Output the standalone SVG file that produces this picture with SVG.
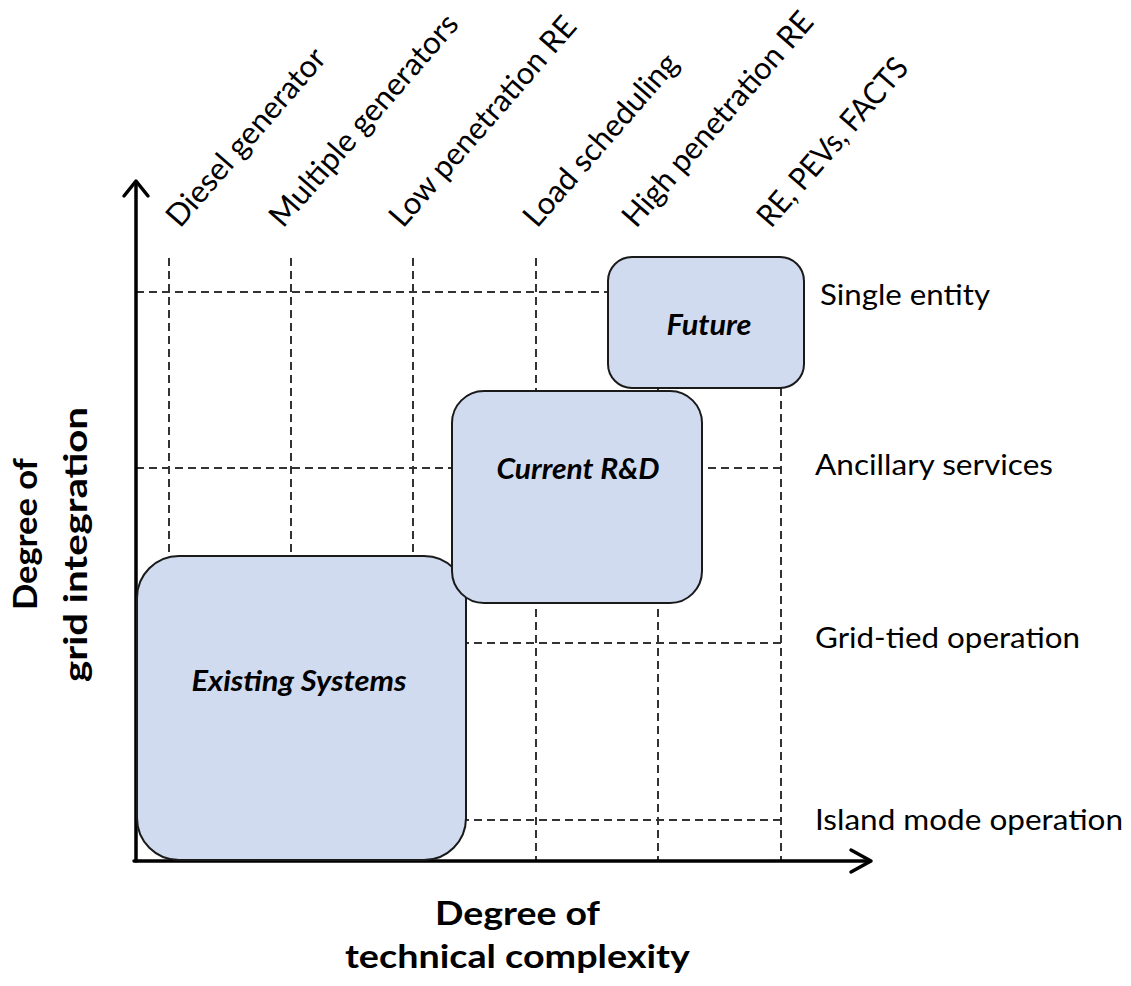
<svg xmlns="http://www.w3.org/2000/svg" width="1131" height="986" viewBox="0 0 1131 986">
<style>
.grid{stroke:#333;stroke-width:2;fill:none;stroke-dasharray:8 5}
.axis{stroke:#000;stroke-width:3.5;fill:none;stroke-linecap:round;stroke-linejoin:round}
.box{fill:#d0dbef;stroke:#1a1a1a;stroke-width:2}
.blabel{font-family:Lato,"Liberation Sans",sans-serif;font-weight:bold;font-style:italic;font-size:28px;fill:#000;text-anchor:middle}
.lbl{font-family:Lato,"Liberation Sans",sans-serif;font-size:29px;fill:#000}
.tlbl{font-family:Lato,"Liberation Sans",sans-serif;font-size:31px;fill:#000}
.title{font-family:Lato,"Liberation Sans",sans-serif;font-weight:bold;font-size:32px;fill:#000}
</style>
<rect width="1131" height="986" fill="#fff"/>
<g id="connectors">
  <g id="grid-vertical">
    <line class="grid" x1="169" y1="258" x2="169" y2="860"/>
    <line class="grid" x1="291" y1="258" x2="291" y2="860"/>
    <line class="grid" x1="413" y1="258" x2="413" y2="860"/>
    <line class="grid" x1="536" y1="258" x2="536" y2="860"/>
    <line class="grid" x1="658" y1="258" x2="658" y2="860"/>
    <line class="grid" x1="781" y1="258" x2="781" y2="860"/>
  </g>
  <g id="grid-horizontal">
    <line class="grid" x1="136" y1="292" x2="781" y2="292"/>
    <line class="grid" x1="136" y1="468" x2="781" y2="468"/>
    <line class="grid" x1="136" y1="643" x2="781" y2="643"/>
    <line class="grid" x1="136" y1="820" x2="781" y2="820"/>
  </g>
  <g id="axes">
    <line class="axis" x1="136" y1="861" x2="136" y2="182"/>
    <polyline class="axis" points="124,196 136,181 148,196"/>
    <line class="axis" x1="134" y1="861" x2="870" y2="861"/>
    <polyline class="axis" points="851,850 871,861 851,872"/>
  </g>
</g>
<g id="node-existing">
  <rect class="box" x="137" y="556" width="329" height="304" rx="42" ry="42"/>
  <text class="blabel" x="299" y="691" textLength="215" lengthAdjust="spacingAndGlyphs">Existing Systems</text>
</g>
<g id="node-current">
  <rect class="box" x="452" y="391" width="250" height="212" rx="32" ry="32"/>
  <text class="blabel" x="578" y="479" textLength="163" lengthAdjust="spacingAndGlyphs">Current R&amp;D</text>
</g>
<g id="node-future">
  <rect class="box" x="608" y="257" width="196" height="131" rx="24" ry="24"/>
  <text class="blabel" x="709" y="335" textLength="85" lengthAdjust="spacingAndGlyphs">Future</text>
</g>
<g id="top-labels">
  <text class="tlbl" transform="translate(180,229) rotate(-49)" textLength="225" lengthAdjust="spacingAndGlyphs">Diesel generator</text>
  <text class="tlbl" transform="translate(283,229) rotate(-49)" textLength="270" lengthAdjust="spacingAndGlyphs">Multiple generators</text>
  <text class="tlbl" transform="translate(403,229) rotate(-49)" textLength="267" lengthAdjust="spacingAndGlyphs">Low penetration RE</text>
  <text class="tlbl" transform="translate(537,229) rotate(-49)" textLength="218" lengthAdjust="spacingAndGlyphs">Load scheduling</text>
  <text class="tlbl" transform="translate(636,229) rotate(-49)" textLength="273" lengthAdjust="spacingAndGlyphs">High penetration RE</text>
  <text class="tlbl" transform="translate(771,229) rotate(-49)" textLength="212" lengthAdjust="spacingAndGlyphs">RE, PEVs, FACTS</text>
</g>
<g id="right-labels">
  <text class="lbl" x="820" y="305" textLength="170" lengthAdjust="spacingAndGlyphs">Single entity</text>
  <text class="lbl" x="815" y="475" textLength="238" lengthAdjust="spacingAndGlyphs">Ancillary services</text>
  <text class="lbl" x="815" y="648" textLength="265" lengthAdjust="spacingAndGlyphs">Grid-tied operation</text>
  <text class="lbl" x="815" y="830" textLength="308" lengthAdjust="spacingAndGlyphs">Island mode operation</text>
</g>
<g id="x-title">
  <text class="title" x="435" y="925" textLength="165" lengthAdjust="spacingAndGlyphs">Degree of</text>
  <text class="title" x="345" y="968" textLength="345" lengthAdjust="spacingAndGlyphs">technical complexity</text>
</g>
<g id="y-title">
  <text class="title" transform="translate(37,610) rotate(-90)" textLength="152" lengthAdjust="spacingAndGlyphs">Degree of</text>
  <text class="title" transform="translate(87,682) rotate(-90)" textLength="275" lengthAdjust="spacingAndGlyphs">grid integration</text>
</g>
</svg>
